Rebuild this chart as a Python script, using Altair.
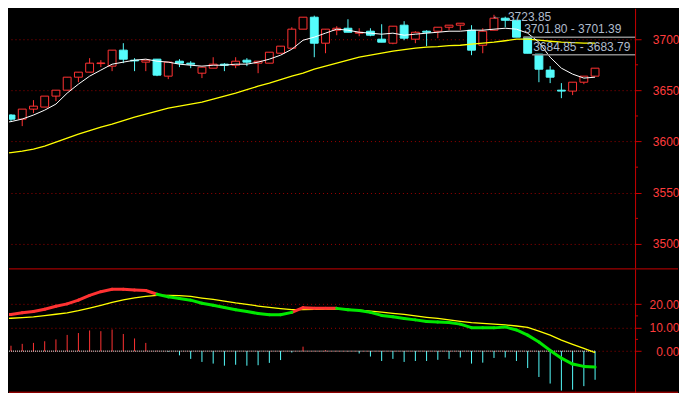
import altair as alt
import pandas as pd

# ---------------- data ----------------
idx = list(range(54))
opens = [3619.0, 3625.9, 3621.9, 3631.7, 3633.7, 3644.4, 3650.2, 3662.9, 3667.8, 3676.2,
         3673.7, 3689.3, 3679.5, 3677.6, 3680.5, 3663.9, 3678.5, 3676.6, 3666.8, 3671.7,
         3675.6, 3674.6, 3679.5, 3676.6, 3676.6, 3686.3, 3691.2, 3709.8, 3721.5, 3696.1,
         3708.8, 3710.7, 3705.9, 3707.8, 3700.0, 3696.1, 3713.7, 3700.0, 3707.8, 3707.8,
         3711.7, 3713.7, 3708.8, 3694.1, 3708.8, 3720.5, 3718.5, 3702.0, 3685.4, 3669.8,
         3650.2, 3649.3, 3658.0, 3663.9]
highs = [3625.5, 3626.8, 3631.7, 3640.5, 3644.4, 3650.2, 3662.9, 3667.8, 3681.5, 3679.5,
         3689.3, 3696.1, 3681.5, 3679.5, 3680.5, 3677.6, 3680.5, 3678.5, 3672.7, 3682.4,
         3676.6, 3682.4, 3681.5, 3678.5, 3687.3, 3693.2, 3711.7, 3721.5, 3723.0, 3709.8,
         3712.7, 3719.5, 3710.7, 3710.7, 3714.6, 3712.7, 3717.6, 3707.8, 3708.8, 3711.7,
         3713.7, 3715.6, 3713.7, 3710.7, 3723.85, 3722.0, 3718.5, 3702.0, 3685.4, 3673.7,
         3657.1, 3658.0, 3663.9, 3671.7]
lows = [3618.5, 3620.0, 3615.1, 3627.8, 3633.7, 3639.5, 3650.2, 3658.0, 3667.8, 3672.7,
        3668.8, 3676.6, 3668.8, 3668.8, 3663.9, 3661.0, 3672.7, 3671.7, 3662.0, 3671.7,
        3668.8, 3671.7, 3673.7, 3666.8, 3676.6, 3686.3, 3691.2, 3709.8, 3682.4, 3686.3,
        3703.9, 3706.8, 3702.9, 3702.9, 3697.1, 3695.1, 3699.0, 3696.1, 3693.2, 3701.0,
        3708.8, 3708.8, 3684.4, 3686.3, 3708.8, 3711.7, 3702.0, 3686.3, 3658.0, 3657.1,
        3642.4, 3645.4, 3656.1, 3663.9]
closes = [3624.9, 3621.9, 3631.7, 3634.6, 3644.4, 3650.2, 3662.9, 3667.8, 3676.6, 3676.8,
          3689.3, 3680.5, 3678.8, 3679.5, 3664.9, 3677.6, 3676.6, 3675.6, 3672.7, 3675.6,
          3674.6, 3678.5, 3677.6, 3678.5, 3687.3, 3693.2, 3709.8, 3721.5, 3696.1, 3709.8,
          3710.7, 3706.8, 3706.8, 3703.9, 3697.1, 3712.7, 3701.0, 3706.8, 3706.8, 3711.7,
          3713.7, 3715.6, 3689.3, 3707.8, 3720.5, 3718.5, 3702.0, 3686.3, 3670.7, 3662.9,
          3649.3, 3658.0, 3663.9, 3671.7]
ma_short = [3618.0, 3619.5, 3622.0, 3625.9, 3630.7, 3636.6, 3647.3, 3656.1, 3663.9, 3669.8,
            3675.6, 3677.6, 3679.5, 3680.5, 3678.5, 3677.6, 3675.6, 3674.6, 3673.7, 3674.6,
            3674.6, 3675.6, 3675.6, 3677.6, 3680.5, 3684.4, 3690.2, 3699.0, 3702.0, 3705.9,
            3709.8, 3708.8, 3706.8, 3705.9, 3704.9, 3705.9, 3703.9, 3704.9, 3705.9, 3706.8,
            3707.8, 3707.8, 3708.8, 3708.8, 3709.8, 3710.7, 3709.8, 3705.9, 3697.1, 3682.4,
            3671.7, 3665.9, 3662.0, 3662.9]
ma_long = [3587.8, 3589.3, 3590.7, 3592.7, 3595.6, 3599.5, 3603.4, 3607.3, 3610.7, 3614.1,
           3617.1, 3620.5, 3623.9, 3626.8, 3629.8, 3632.7, 3634.6, 3636.6, 3638.5, 3641.5,
           3644.4, 3647.3, 3650.7, 3654.1, 3657.1, 3660.5, 3663.9, 3666.8, 3670.7, 3673.7,
           3676.6, 3679.5, 3682.4, 3684.4, 3686.3, 3688.3, 3689.8, 3691.2, 3692.2, 3692.7,
           3693.7, 3694.1, 3695.1, 3696.1, 3697.1, 3698.5, 3700.0, 3700.0, 3699.0, 3698.0,
           3697.1, 3696.6, 3696.1, 3696.1]
dif = [15.4, 15.6, 16.3, 16.9, 17.8, 19.1, 20.1, 21.7, 23.7, 25.3,
       26.3, 26.3, 26.0, 25.8, 24.2, 23.1, 22.4, 21.7, 20.4, 19.5,
       18.6, 17.6, 16.9, 16.0, 15.5, 15.5, 16.5, 18.5, 18.2, 18.2,
       18.2, 17.6, 17.3, 16.5, 15.2, 14.6, 13.9, 13.3, 12.6, 12.4,
       12.2, 11.5, 10.0, 9.9, 9.9, 10.3, 9.0, 6.8, 3.9, 0.3,
       -3.0, -5.5, -6.5, -6.8]
dea = [13.8, 14.0, 14.3, 14.6, 15.1, 15.7, 16.3, 17.2, 18.3, 19.5,
       20.7, 21.8, 22.7, 23.3, 23.7, 23.7, 23.6, 23.3, 22.6, 22.0,
       21.3, 20.5, 19.9, 19.2, 18.6, 18.1, 17.7, 17.7, 17.8, 17.9,
       18.0, 17.8, 17.4, 17.0, 16.6, 16.1, 15.6, 15.0, 14.4, 13.9,
       13.3, 12.7, 12.1, 11.8, 11.5, 11.2, 10.7, 10.1, 8.5, 6.8,
       4.7, 2.9, 1.2, -0.6]
macd = [2.0, 2.3, 3.1, 3.5, 4.2, 5.0, 6.9, 7.7, 8.8, 8.5,
        9.2, 7.3, 5.4, 3.5, 0.2, -0.3, -1.8, -3.3, -4.6, -5.3,
        -6.2, -5.8, -6.2, -6.0, -5.0, -3.8, -0.6, 1.9, 0.1, 0.4,
        0.1, -0.1, -1.0, -2.3, -4.2, -3.3, -4.6, -4.2, -4.2, -3.7,
        -3.3, -2.7, -5.3, -4.9, -2.9, -2.7, -4.2, -7.2, -11.0, -13.8,
        -16.8, -16.4, -14.9, -12.2]

price_ticks = [3500, 3550, 3600, 3650, 3700]
price_minor = [3525, 3575, 3625, 3675]
macd_ticks = [0, 10, 20]
macd_minor = [5, 15]

hi_idx = 44
hi_val = 3723.85
ann_idx = [46.6, 47.4]
ann_price = [3701.80, 3684.85]
ann_text = ["3701.80 - 3701.39", "3684.85 - 3683.79"]

# ---------------- style ----------------
RED = "#ff3232"
CYAN = "#54fcfc"
GREEN = "#00e800"
YELLOW = "#ffff00"
WHITE = "#ffffff"
AXIS_RED = "#c80000"
GRID_RED = "#9a0000"
LABEL_RED = "#ff3c3c"
ANN = "#b0bccc"
ANN_LINE = "#8a8a8a"
FONT = "Liberation Sans"

W = 627
H_TOP = 260
H_BOT = 124
RIGHT_EDGE = 670
X_DOM = [0.822, 56.56]
Y_TOP = [3476.6, 3730.2]
Y_BOT = [-17.7, 35.0]

xs = alt.Scale(domain=X_DOM, nice=False, zero=False)
ys_top = alt.Scale(domain=Y_TOP, nice=False, zero=False)
ys_bot = alt.Scale(domain=Y_BOT, nice=False, zero=False)


def right_axis(values, fmt):
    return alt.Axis(orient="right", values=values, format=fmt, grid=True,
                    gridColor=GRID_RED, gridDash=[1, 3], gridWidth=1,
                    domainColor=AXIS_RED, domainWidth=1, tickColor=AXIS_RED,
                    tickSize=6, labelColor=LABEL_RED, labelFont=FONT,
                    labelFontSize=12, labelAlign="right", labelPadding=38,
                    labelBaseline="middle", title=None)


AX_TOP = right_axis(price_ticks, "d")
AX_BOT = right_axis(macd_ticks, ".2f")


def XQ(field):
    return alt.X(field, type="quantitative", scale=xs, axis=None)


def YT(field):
    return alt.Y(field, type="quantitative", scale=ys_top, axis=AX_TOP)


def YB(field):
    return alt.Y(field, type="quantitative", scale=ys_bot, axis=AX_BOT)


candles = pd.DataFrame({"i": idx, "open": opens, "high": highs, "low": lows,
                        "close": closes, "ma5": ma_short, "ma_long": ma_long})
candles["up"] = [1 if c >= o else 0 for o, c in zip(opens, closes)]
candles["body_lo"] = candles[["open", "close"]].min(axis=1)
candles["body_hi"] = candles[["open", "close"]].max(axis=1)

base_c = alt.Chart(candles)

# ---------------- top panel ----------------
layers_top = []
for flag, col, fill in [(1, RED, "#000000"), (0, CYAN, CYAN)]:
    layers_top.append(
        base_c.transform_filter(f"datum.up == {flag}").mark_rule(
            strokeWidth=1, clip=True, color=col).encode(
            x=XQ("i"), y=YT("low"), y2="high")
    )
    layers_top.append(
        base_c.transform_filter(f"datum.up == {flag}").transform_calculate(
            x0="datum.i - 0.35", x1="datum.i + 0.35"
        ).mark_rect(strokeWidth=1, clip=True, stroke=col, fill=fill).encode(
            x=XQ("x0"), x2="x1", y=YT("body_lo"), y2="body_hi")
    )

malong_line = base_c.mark_line(color=YELLOW, strokeWidth=1.3, clip=True).encode(
    x=XQ("i"), y=YT("ma_long"))
ma5_line = base_c.mark_line(color=WHITE, strokeWidth=1, clip=True).encode(
    x=XQ("i"), y=YT("ma5"))

minor_top = alt.Chart(pd.DataFrame({"v": price_minor})).mark_rule(color=AXIS_RED).encode(
    y=YT("v"), x=alt.value(W), x2=alt.value(W + 3))

hi_df = pd.DataFrame({"i": [hi_idx], "p": [hi_val], "t": [f"{hi_val:.2f}"]})
hi_text = alt.Chart(hi_df).mark_text(align="left", baseline="alphabetic", dx=14, dy=6,
                                     font=FONT, fontSize=12, color=ANN).encode(
    x=XQ("i"), y=YT("p"), text="t:N")
hi_arrow = alt.Chart(hi_df).mark_text(align="left", baseline="middle", dx=-2, dy=1,
                                      fontSize=10, color=ANN, text="←").encode(
    x=XQ("i"), y=YT("p"))

ann_df = pd.DataFrame({"i": ann_idx, "p": ann_price, "t": ann_text})
ann_rule = alt.Chart(ann_df).mark_rule(color=ANN_LINE, strokeWidth=1.5).encode(
    x=XQ("i"), x2=alt.value(W), y=YT("p"))
ann_label = alt.Chart(ann_df).mark_text(align="left", baseline="alphabetic", dx=1, dy=-4,
                                        font=FONT, fontSize=12, color=ANN).encode(
    x=XQ("i"), y=YT("p"), text="t:N")

top = alt.layer(*layers_top, malong_line, ma5_line, minor_top,
                ann_rule, ann_label, hi_arrow, hi_text).properties(width=W, height=H_TOP)

# ---------------- MACD panel ----------------
macd_df = pd.DataFrame({"i": idx, "dif": dif, "dea": dea, "macd": macd, "zero": [0.0] * len(idx)})
base_m = alt.Chart(macd_df)

hist_up = base_m.transform_filter("datum.macd > 0").mark_rule(
    strokeWidth=1, clip=True, color=RED).encode(x=XQ("i"), y=YB("zero"), y2="macd")
hist_dn = base_m.transform_filter("datum.macd <= 0").mark_rule(
    strokeWidth=1, clip=True, color=CYAN).encode(x=XQ("i"), y=YB("zero"), y2="macd")

zero_df = pd.DataFrame({"a": [X_DOM[0]], "b": [idx[-1]], "z": [0]})
zero_line = alt.Chart(zero_df).mark_rule(color=WHITE, strokeDash=[1, 1], strokeWidth=1).encode(
    x=XQ("a"), x2="b", y=YB("z"))

dea_line = base_m.mark_line(color=YELLOW, strokeWidth=1.3, clip=True).encode(
    x=XQ("i"), y=YB("dea"))

seg_rows = []
for k in range(len(idx) - 1):
    seg_rows.append({"x": idx[k], "x2": idx[k + 1], "y": dif[k], "y2": dif[k + 1],
                     "rise": 1 if macd[k + 1] > 0 else 0})
seg_df = pd.DataFrame(seg_rows)
dif_layers = []
for flag, col in [(1, RED), (0, GREEN)]:
    dif_layers.append(
        alt.Chart(seg_df).transform_filter(f"datum.rise == {flag}").mark_rule(
            strokeWidth=3, strokeCap="round", clip=True, color=col).encode(
            x=XQ("x"), x2="x2", y=YB("y"), y2="y2")
    )

minor_bot = alt.Chart(pd.DataFrame({"v": macd_minor})).mark_rule(color=AXIS_RED).encode(
    y=YB("v"), x=alt.value(W), x2=alt.value(W + 3))

one = pd.DataFrame({"k": [0]})
sep_top = alt.Chart(one).mark_rule(color=AXIS_RED, strokeWidth=1).encode(
    x=alt.value(0), x2=alt.value(RIGHT_EDGE), y=alt.value(0))
sep_bot = alt.Chart(one).mark_rule(color=AXIS_RED, strokeWidth=1).encode(
    x=alt.value(0), x2=alt.value(RIGHT_EDGE), y=alt.value(H_BOT - 0.5))

bottom = alt.layer(hist_up, hist_dn, zero_line, dea_line, *dif_layers, minor_bot,
                   sep_top, sep_bot).properties(width=W, height=H_BOT)

chart = alt.vconcat(top, bottom, spacing=0).properties(
    background="#000000", padding=0
).configure_view(strokeWidth=0)

chart.save("out.html", embed_options={"renderer": "svg", "actions": False})
